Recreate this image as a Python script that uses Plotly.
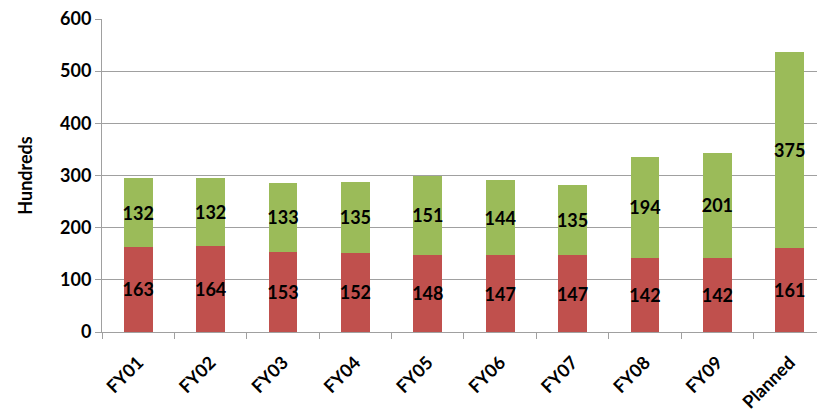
import plotly.graph_objects as go

# Yearly totals in hundreds, split into two stacked components
categories = ["FY01", "FY02", "FY03", "FY04", "FY05", "FY06", "FY07", "FY08", "FY09", "Planned"]
base_values = [163, 164, 153, 152, 148, 147, 147, 142, 142, 161]
top_values = [132, 132, 133, 135, 151, 144, 135, 194, 201, 375]

RED = "#C0504D"
GREEN = "#9BBB59"
FONT = "Lato"
LABEL_FONT = dict(family=FONT, size=18, color="black", weight="bold")

fig = go.Figure()
for values, color in ((base_values, RED), (top_values, GREEN)):
    fig.add_trace(go.Bar(
        x=categories, y=values, marker=dict(color=color, line=dict(width=0)),
        text=values, textposition="inside", insidetextanchor="middle",
        textangle=0, constraintext="none", cliponaxis=False,
        textfont=LABEL_FONT, width=0.4, showlegend=False,
    ))

fig.update_layout(
    barmode="stack",
    width=817, height=419,
    margin=dict(l=102, r=0, t=19, b=87),
    paper_bgcolor="white", plot_bgcolor="white",
    font=dict(family=FONT, color="black"),
)
fig.update_xaxes(
    range=[-0.5, 9.376],
    showgrid=False,
    showline=True, linecolor="#A0A0A0", linewidth=1,
    ticks="outside", tickson="boundaries", ticklen=6, tickcolor="#A0A0A0",
    tickangle=-45, ticklabelstandoff=12,
    tickfont=dict(family=FONT, size=18, color="black", weight="bold"),
)
fig.update_yaxes(
    range=[0, 600], dtick=100,
    showgrid=True, gridcolor="#A0A0A0", gridwidth=1,
    showline=True, linecolor="#A0A0A0", linewidth=1,
    ticks="outside", ticklen=6, tickcolor="#A0A0A0",
    tickfont=dict(family=FONT, size=18, color="black", weight="bold"),
    title=dict(text="Hundreds", font=dict(family=FONT, size=18, color="black", weight="bold"), standoff=22),
    zeroline=False,
)

fig.write_html("out.html")
